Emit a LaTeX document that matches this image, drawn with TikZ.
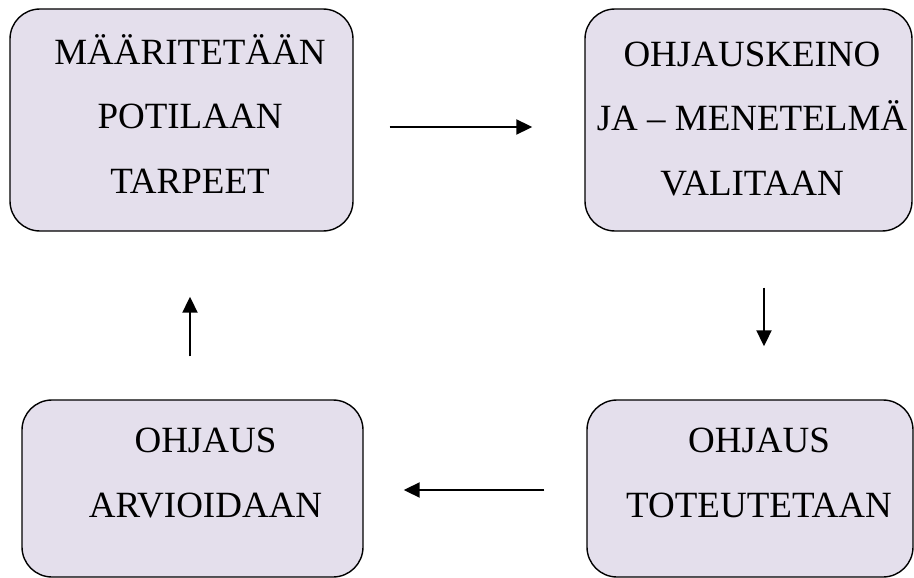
\documentclass[tikz,border=0pt]{standalone}
\usepackage{fontspec}
\setmainfont{Liberation Serif}
\usetikzlibrary{arrows.meta, positioning}
\definecolor{boxfill}{HTML}{E4DFEC}

\begin{document}
\begin{tikzpicture}[
    x=1pt, y=-1pt,
    box/.style={
        draw, rounded corners=30pt, fill=boxfill, line width=1.4pt
    },
    boxtext/.style={
        align=center, anchor=base, inner sep=0pt,
        font=\fontsize{37}{64.5}\selectfont
    },
    flow/.style={-{Triangle[length=16pt, width=15pt]}, line width=2pt},
]
\useasboundingbox (0,0) rectangle (914,578);

% ===== Boxes =====
\node[box, minimum width=343pt, minimum height=222pt] (needs) at (181.5,120) {};
\node[box, minimum width=327pt, minimum height=222pt] (method) at (748.5,120) {};
\node[box, minimum width=326pt, minimum height=177pt] (do) at (750,488.5) {};
\node[box, minimum width=341pt, minimum height=177pt] (eval) at (192.5,488.5) {};

% ===== Texts (base = last line) =====
\node[boxtext] (needstext) at (190,193) {MÄÄRITETÄÄN\\POTILAAN\\TARPEET};
\node[boxtext] (methodtext) at (752,195) {OHJAUSKEINO\\JA – MENETELMÄ\\VALITAAN};
\node[boxtext] (dotext) at (759,517) {OHJAUS\\TOTEUTETAAN};
\node[boxtext] (evaltext) at (205.5,517) {OHJAUS\\ARVIOIDAAN};

% ===== ARROWS =====
\draw[flow, shorten <=36pt, shorten >=52pt]
    ([yshift=-7pt]needs.east) -- ([yshift=-7pt]needs.east -| method.west);
\draw[flow, shorten <=56pt, shorten >=53pt]
    ([xshift=15.5pt]method.south) -- ([xshift=15.5pt]method.south |- do.north);
\draw[flow, shorten <=42pt, shorten >=40pt]
    ([yshift=-1.5pt]do.west) -- ([yshift=-1.5pt]do.west -| eval.east);
\draw[flow, shorten <=43pt, shorten >=65pt]
    ([xshift=-2.5pt]eval.north) -- ([xshift=-2.5pt]eval.north |- needs.south);

\end{tikzpicture}
\end{document}
